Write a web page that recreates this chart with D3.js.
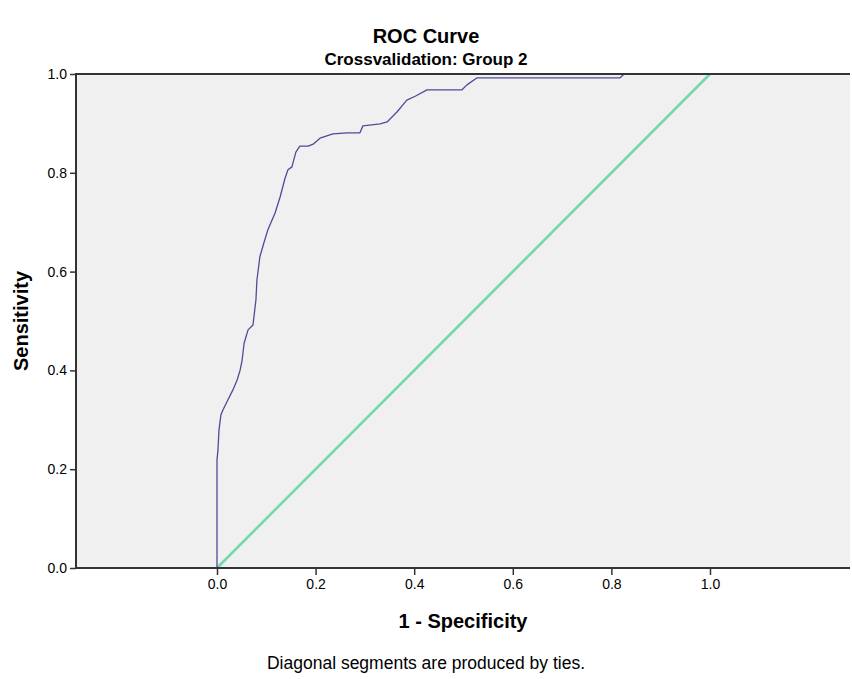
<!DOCTYPE html>
<html>
<head>
<meta charset="utf-8">
<script src="https://cdn.jsdelivr.net/npm/d3@7"></script>
<style>
  html, body { margin: 0; padding: 0; background: #ffffff; }
  svg { display: block; }
  text { font-family: "Liberation Sans", Arial, sans-serif; fill: #000; }
</style>
</head>
<body>
<script>
// ---- data ----
const title = "ROC Curve";
const subtitle = "Crossvalidation: Group 2";
const xTitle = "1 - Specificity";
const yTitle = "Sensitivity";
const footnote = "Diagonal segments are produced by ties.";

const xTicks = [0.0, 0.2, 0.4, 0.6, 0.8, 1.0];
const yTicks = [0.0, 0.2, 0.4, 0.6, 0.8, 1.0];

// ROC curve: 1 - specificity
const rocX = [0.000, 0.000, 0.002, 0.004, 0.008, 0.012, 0.022, 0.032, 0.041, 0.047,
              0.051, 0.055, 0.063, 0.073, 0.079, 0.081, 0.087, 0.095, 0.103, 0.118,
              0.128, 0.138, 0.144, 0.152, 0.160, 0.168, 0.185, 0.195, 0.209, 0.235,
              0.264, 0.290, 0.296, 0.331, 0.345, 0.365, 0.385, 0.402, 0.426, 0.497,
              0.507, 0.527, 0.817, 0.826, 1.000];
// ROC curve: sensitivity
const rocY = [0.000, 0.219, 0.239, 0.279, 0.310, 0.320, 0.340, 0.360, 0.381, 0.401,
              0.421, 0.455, 0.482, 0.492, 0.543, 0.583, 0.630, 0.658, 0.684, 0.719,
              0.751, 0.789, 0.806, 0.812, 0.842, 0.854, 0.854, 0.858, 0.870, 0.879,
              0.881, 0.881, 0.895, 0.899, 0.903, 0.923, 0.947, 0.955, 0.968, 0.968,
              0.978, 0.992, 0.992, 1.000, 1.000];

// reference line
const refX = [0, 1];
const refY = [0, 1];

// ---- layout ----
const W = 852, H = 679;
const svg = d3.select("body").append("svg").attr("width", W).attr("height", H);

const x = d3.scaleLinear().domain([-0.286, 1.284]).range([76, 850]);
const y = d3.scaleLinear().domain([0, 1]).range([568, 74]);

const [x0, x1] = x.range();
const [yb, yt] = y.range();

// plot background
svg.append("rect")
  .attr("x", x0).attr("y", yt)
  .attr("width", x1 - x0).attr("height", yb - yt)
  .attr("fill", "#f0f0f0");

// reference diagonal
const refData = refX.map((v, i) => [v, refY[i]]);
const line = d3.line().x(d => x(d[0])).y(d => y(d[1]));
svg.append("path")
  .datum(refData)
  .attr("d", line)
  .attr("fill", "none")
  .attr("stroke", "#74d8ac")
  .attr("stroke-width", 2.6);

// ROC curve
const rocData = rocX.map((v, i) => [v, rocY[i]]);
svg.append("path")
  .datum(rocData)
  .attr("d", line)
  .attr("fill", "none")
  .attr("stroke", "#4c4c98")
  .attr("stroke-width", 1.3)
  .attr("stroke-linejoin", "round");

// frame lines: top, left, bottom
const frameColor = "#333333";
svg.append("line").attr("x1", x0).attr("x2", x1).attr("y1", yt).attr("y2", yt)
  .attr("stroke", frameColor).attr("stroke-width", 2);
svg.append("line").attr("x1", x0).attr("x2", x0).attr("y1", yt - 1).attr("y2", yb + 1)
  .attr("stroke", frameColor).attr("stroke-width", 2);

// x axis
const xAxis = d3.axisBottom(x).tickValues(xTicks).tickFormat(d3.format(".1f"))
  .tickSize(7).tickPadding(4);
const gx = svg.append("g").attr("transform", `translate(0,${yb})`).call(xAxis);
gx.select(".domain").attr("d", `M${x0},0H${x1}`).attr("stroke", frameColor).attr("stroke-width", 2);
gx.selectAll(".tick line").attr("stroke", frameColor).attr("stroke-width", 1.5);
gx.selectAll(".tick text").attr("font-size", 14).attr("fill", "#111")
  .attr("font-family", "Liberation Sans, Arial, sans-serif");

// y axis
const yAxis = d3.axisLeft(y).tickValues(yTicks).tickFormat(d3.format(".1f"))
  .tickSize(6).tickPadding(3);
const gy = svg.append("g").attr("transform", `translate(${x0},0)`).call(yAxis);
gy.select(".domain").remove();
gy.selectAll(".tick line").attr("stroke", frameColor).attr("stroke-width", 1.5);
gy.selectAll(".tick text").attr("font-size", 14).attr("fill", "#111")
  .attr("font-family", "Liberation Sans, Arial, sans-serif");

// titles
svg.append("text").attr("x", 426).attr("y", 43)
  .attr("text-anchor", "middle").attr("font-size", 20).attr("font-weight", "bold")
  .text(title);
svg.append("text").attr("x", 426).attr("y", 65)
  .attr("text-anchor", "middle").attr("font-size", 17).attr("font-weight", "bold")
  .text(subtitle);

svg.append("text").attr("x", (x0 + x1) / 2).attr("y", 628)
  .attr("text-anchor", "middle").attr("font-size", 20).attr("font-weight", "bold")
  .text(xTitle);

svg.append("text")
  .attr("transform", `translate(28,${(yt + yb) / 2}) rotate(-90)`)
  .attr("text-anchor", "middle").attr("font-size", 20).attr("font-weight", "bold")
  .text(yTitle);

svg.append("text").attr("x", 426).attr("y", 669)
  .attr("text-anchor", "middle").attr("font-size", 17.5)
  .attr("fill", "#111")
  .text(footnote);
</script>
</body>
</html>
